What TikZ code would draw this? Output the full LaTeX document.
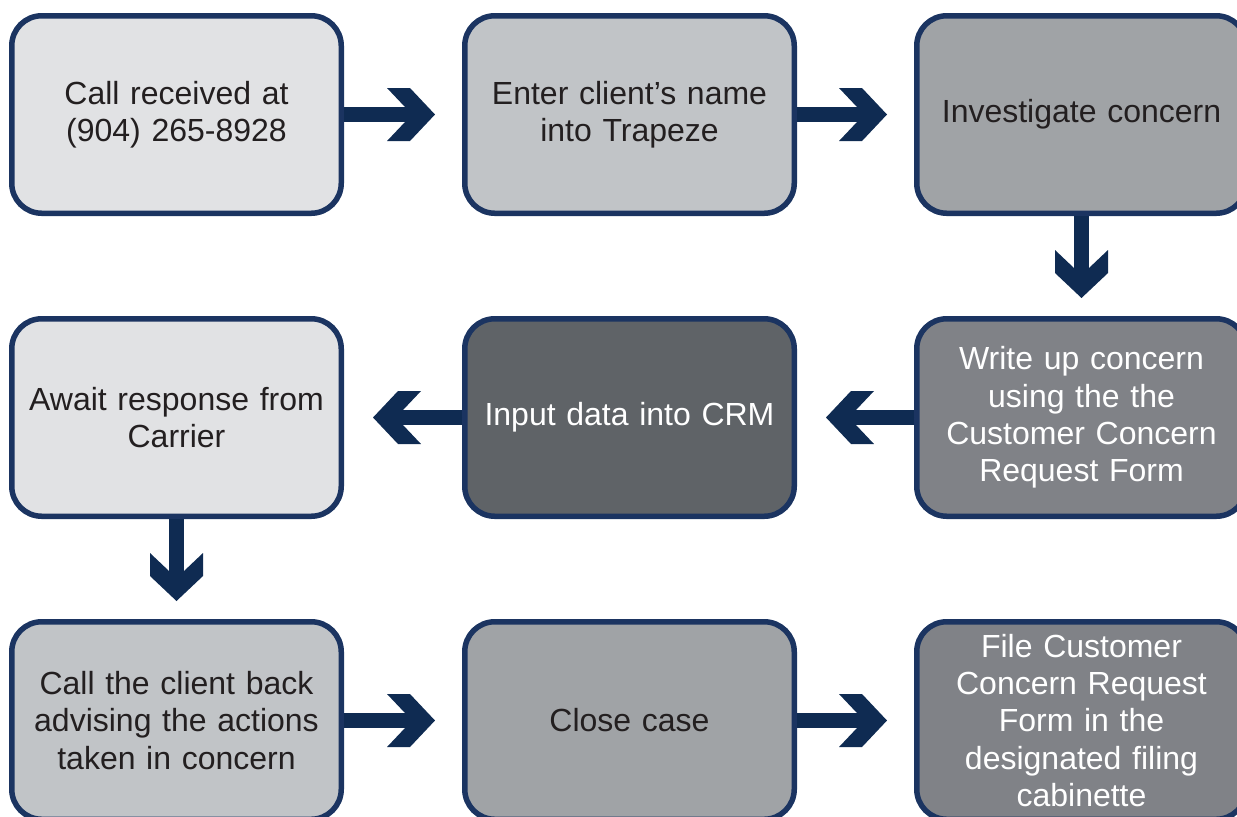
\documentclass[tikz,border=0pt]{standalone}
\usepackage{fontspec}
\setmainfont{Liberation Sans}
\usetikzlibrary{arrows.meta}
\definecolor{framecol}{HTML}{1B3461}
\definecolor{arrowcol}{HTML}{0F2B52}
\definecolor{inkcol}{HTML}{231F20}
\definecolor{shadeA}{HTML}{E1E2E4}
\definecolor{shadeB}{HTML}{C1C4C7}
\definecolor{shadeC}{HTML}{A0A3A6}
\definecolor{shadeD}{HTML}{808287}
\definecolor{shadeE}{HTML}{5F6367}
% chevron head: tip at the origin, arms cut flat
\pgfdeclarearrow{
  name = Chevron,
  setup code = {
    \pgfarrowssettipend{0pt}
    \pgfarrowssetlineend{-10pt}
    \pgfarrowssetbackend{-24pt}
    \pgfarrowsupperhullpoint{0pt}{0pt}
    \pgfarrowsupperhullpoint{-12.5pt}{13.25pt}
    \pgfarrowsupperhullpoint{-24pt}{13.25pt}
  },
  drawing code = {
    \pgfpathmoveto{\pgfpoint{0pt}{0pt}}
    \pgfpathlineto{\pgfpoint{-12.5pt}{13.25pt}}
    \pgfpathlineto{\pgfpoint{-24pt}{13.25pt}}
    \pgfpathlineto{\pgfpoint{-15pt}{3.75pt}}
    \pgfpathlineto{\pgfpoint{-15pt}{-3.75pt}}
    \pgfpathlineto{\pgfpoint{-24pt}{-13.25pt}}
    \pgfpathlineto{\pgfpoint{-12.5pt}{-13.25pt}}
    \pgfpathclose
    \pgfusepathqfill
  }
}
\tikzset{%
  stepbox/.style={draw=framecol, line width=2.75pt, rounded corners=15pt,
    minimum width=164.75pt, minimum height=98.75pt, text width=160pt,
    align=center, inner xsep=2pt, inner ysep=0pt, text=inkcol,
    font=\fontsize{16}{18.6}\selectfont},
  darkbox/.style={text=white},
  flow/.style={draw=arrowcol, fill=arrowcol, line width=7.5pt, -Chevron},
}

\begin{document}
\begin{tikzpicture}[x=0.5pt,y=-0.5pt]
  \useasboundingbox (0,0) rectangle (1237,816);
  % first row
  \node[stepbox, fill=shadeA] (call) at (176.5,114.5) {Call received at\\(904) 265-8928};
  \node[stepbox, fill=shadeB] (enter) at (629.5,114.5) {Enter client’s name\\into Trapeze};
  \node[stepbox, fill=shadeC] (investigate) at (1081.5,114.5) {Investigate concern};
  % second row, right to left
  \node[stepbox, darkbox, fill=shadeD] (writeup) at (1081.5,417.5) {Write up concern\\using the the\\Customer Concern\\Request Form};
  \node[stepbox, darkbox, fill=shadeE] (crm) at (629.5,417.5) {Input data into CRM};
  \node[stepbox, fill=shadeA] (await) at (176.5,417.5) {Await response from\\Carrier};
  % third row
  \node[stepbox, fill=shadeB] (callback) at (176.5,720.5) {Call the client back\\advising the actions\\taken in concern};
  \node[stepbox, fill=shadeC] (close) at (629.5,720.5) {Close case};
  \node[stepbox, darkbox, fill=shadeD] (filing) at (1081.5,720.5) {File Customer\\Concern Request\\Form in the\\designated filing\\cabinette};
  % connectors
  \draw[flow] (call.east) -- ([xshift=-13.5pt]enter.west);
  \draw[flow] (enter.east) -- ([xshift=-13.5pt]investigate.west);
  \draw[flow] (investigate.south) -- ([yshift=9pt]writeup.north);
  \draw[flow] (writeup.west) -- ([xshift=14.5pt]crm.east);
  \draw[flow] (crm.west) -- ([xshift=14.5pt]await.east);
  \draw[flow] (await.south) -- ([yshift=9pt]callback.north);
  \draw[flow] (callback.east) -- ([xshift=-13.5pt]close.west);
  \draw[flow] (close.east) -- ([xshift=-13.5pt]filing.west);
\end{tikzpicture}
\end{document}
